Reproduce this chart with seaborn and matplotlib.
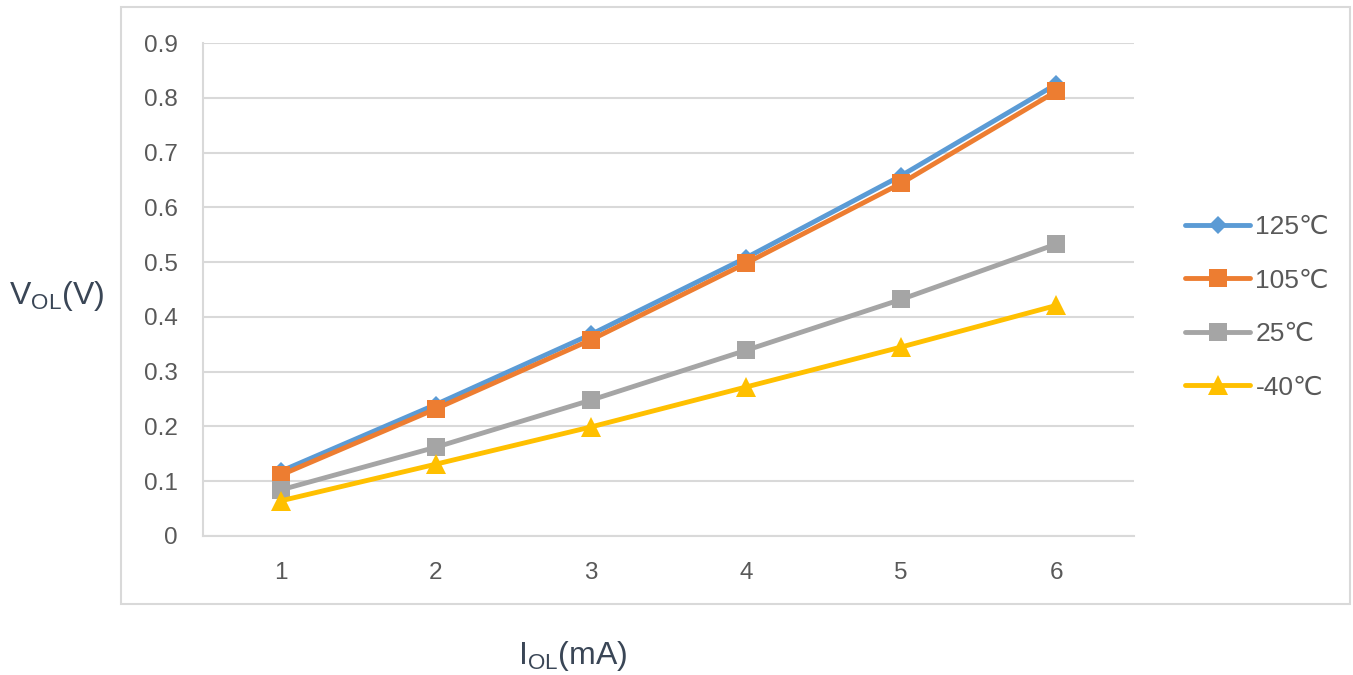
import numpy as np
import pandas as pd
import matplotlib
matplotlib.use("Agg")
import matplotlib.pyplot as plt
import seaborn as sns
from matplotlib.patches import Rectangle

# Data
current_ma = [1, 2, 3, 4, 5, 6]
v_125 = [0.118, 0.240, 0.368, 0.508, 0.658, 0.825]
v_105 = [0.111, 0.232, 0.358, 0.498, 0.644, 0.812]
v_25 = [0.084, 0.162, 0.248, 0.339, 0.432, 0.533]
v_m40 = [0.064, 0.131, 0.199, 0.272, 0.345, 0.421]
series_names = ["125℃", "105℃", "25℃", "-40℃"]
series_values = [v_125, v_105, v_25, v_m40]
yticks = [0, 0.1, 0.2, 0.3, 0.4, 0.5, 0.6, 0.7, 0.8, 0.9]

colors = ["#5B9BD5", "#ED7D31", "#A5A5A5", "#FFC000"]
markers = ["D", "s", "s", "^"]
msizes = [9, 13, 13, 14]

df = pd.DataFrame({
    "I": np.tile(current_ma, len(series_names)),
    "V": np.concatenate(series_values),
    "T": np.repeat(series_names, len(current_ma)),
})

sns.set_style("white")
plt.rcParams["font.family"] = ["Liberation Sans", "DejaVu Sans"]

fig = plt.figure(figsize=(13.53, 6.75), dpi=100)
ax = fig.add_axes([0.150, 0.206, 0.688, 0.730])

grid_c = "#D9D9D9"
for name, col, mk, ms in zip(series_names, colors, markers, msizes):
    sub = df[df["T"] == name]
    sns.lineplot(data=sub, x="I", y="V", ax=ax, color=col, linewidth=3.5,
                 marker=mk, markersize=ms, markeredgewidth=0, label=name)

ax.set_xlim(0.5, 6.5)
ax.set_ylim(0, 0.9)
ax.set_yticks(yticks)
ax.set_yticklabels([f"{t:g}" for t in yticks])
ax.set_xticks(current_ma)
ax.yaxis.grid(True, color=grid_c, linewidth=1.5)
ax.xaxis.grid(False)
ax.set_axisbelow(True)
for s in ["top", "right"]:
    ax.spines[s].set_visible(False)
for s in ["left", "bottom"]:
    ax.spines[s].set_color(grid_c)
    ax.spines[s].set_linewidth(1.5)
ax.tick_params(axis="both", length=0, labelsize=17.5, labelcolor="#595959")
ax.tick_params(axis="y", pad=18)
ax.tick_params(axis="x", pad=19)
ax.set_xlabel("")
ax.set_ylabel("")

label_c = "#3A4656"
fig.text(0.042, 0.562, r"$\mathregular{V_{OL}}$(V)", fontsize=23, color=label_c,
         ha="center", va="center")
fig.text(0.423, 0.028, r"$\mathregular{I_{OL}}$(mA)", fontsize=23, color=label_c,
         ha="center", va="center")

leg = ax.legend(loc="center left", bbox_to_anchor=(1.03, 0.464), frameon=False,
                fontsize=19, labelspacing=1.12, handlelength=2.45,
                handletextpad=0.2, labelcolor="#595959")

# outer chart border
fig.patches.append(Rectangle((121 / 1353, 1 - 604 / 675), (1350 - 121) / 1353,
                             (604 - 7) / 675, transform=fig.transFigure,
                             fill=False, edgecolor=grid_c, linewidth=1.5))

fig.savefig("out.png", dpi=100)
